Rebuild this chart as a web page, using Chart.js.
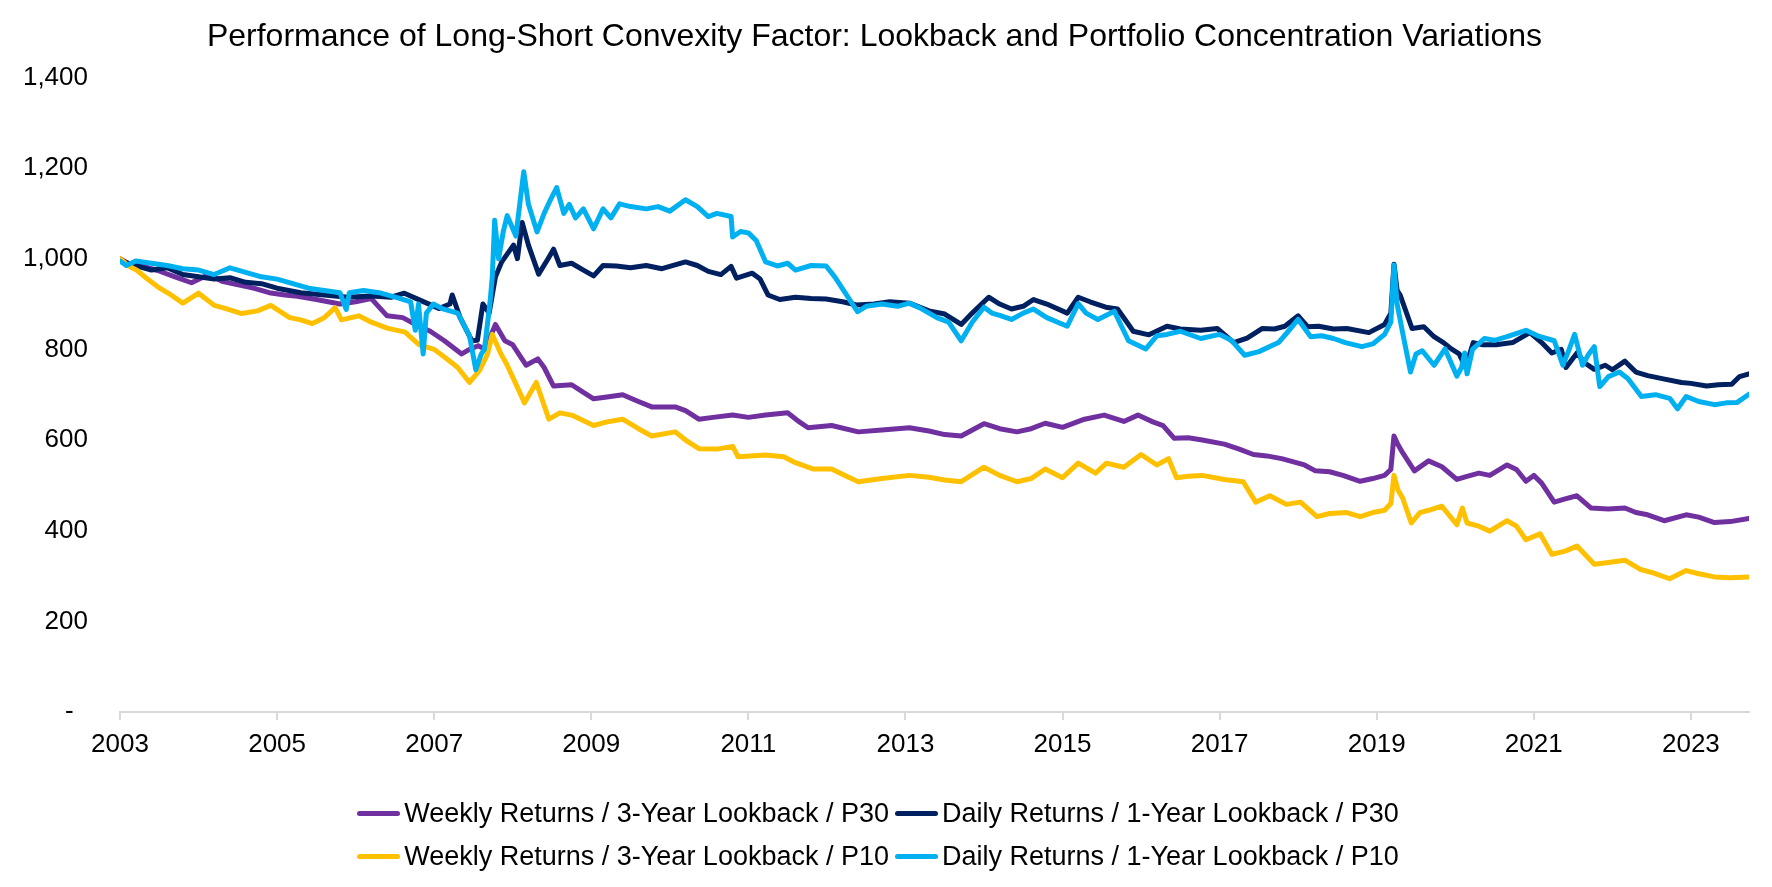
<!DOCTYPE html>
<html>
    <head>
        <meta charset="utf-8">
        <script src="https://cdn.jsdelivr.net/npm/chart.js@4.4.1/dist/chart.umd.min.js"></script>
        <style>
            body { margin: 0; background: #fff; }
            #wrap { position: relative; width: 1772px; height: 887px; }
            #legend {
                position: absolute; left: -11px; top: 792px; width: 100%;
                display: grid; grid-template-columns: auto auto; justify-content: center;
                font-family: "Liberation Sans", Arial, sans-serif; font-size: 27px; color: #000;
            }
            .item { display: flex; align-items: center; height: 43px; white-space: nowrap; }
            .swatch { width: 43px; height: 5px; border-radius: 3px; margin-left: 6px; margin-right: 4px; }
        </style>
    </head>
    <body>
        <div id="wrap">
            <canvas id="myChart"></canvas>
            <div id="legend"></div>
        </div>
    </body>
    <script>
        const titleText = 'Performance of Long-Short Convexity Factor: Lookback and Portfolio Concentration Variations'
        const tickYears = [2003, 2005, 2007, 2009, 2011, 2013, 2015, 2017, 2019, 2021, 2023]
        const yTicks = [0, 200, 400, 600, 800, 1000, 1200, 1400]

        // Weekly Returns / 3-Year Lookback / P30
        const weeklyP30Years = [2003.0, 2003.1, 2003.25, 2003.48, 2003.7, 2003.91, 2004.13, 2004.3, 2004.46, 2004.7, 2004.9, 2005.1, 2005.26, 2005.5, 2005.8, 2006.0, 2006.2, 2006.4, 2006.6, 2006.77, 2006.95, 2007.13, 2007.35, 2007.45, 2007.56, 2007.65, 2007.72, 2007.78, 2007.9, 2008.0, 2008.17, 2008.32, 2008.4, 2008.52, 2008.75, 2008.9, 2009.03, 2009.2, 2009.4, 2009.6, 2009.77, 2010.07, 2010.2, 2010.37, 2010.55, 2010.8, 2011.0, 2011.22, 2011.5, 2011.65, 2011.76, 2012.06, 2012.4, 2012.7, 2013.05, 2013.3, 2013.5, 2013.71, 2014.0, 2014.2, 2014.42, 2014.6, 2014.78, 2015.0, 2015.28, 2015.53, 2015.78, 2015.96, 2016.15, 2016.28, 2016.42, 2016.6, 2016.78, 2017.06, 2017.25, 2017.43, 2017.6, 2017.79, 2018.08, 2018.22, 2018.4, 2018.57, 2018.79, 2018.95, 2019.1, 2019.18, 2019.22, 2019.27, 2019.33, 2019.48, 2019.66, 2019.83, 2020.02, 2020.15, 2020.3, 2020.44, 2020.66, 2020.78, 2020.9, 2021.0, 2021.1, 2021.26, 2021.4, 2021.55, 2021.73, 2021.95, 2022.16, 2022.3, 2022.45, 2022.66, 2022.94, 2023.1, 2023.3, 2023.5, 2023.74]
        const weeklyP30Values = [1000, 990, 985, 974, 960, 947, 965, 950, 944, 935, 925, 920, 917, 910, 900, 905, 912, 874, 870, 854, 840, 819, 790, 800, 808, 800, 830, 855, 819, 810, 765, 779, 760, 719, 722, 705, 691, 695, 700, 685, 673, 673, 665, 646, 650, 655, 650, 655, 660, 640, 627, 632, 618, 622, 627, 620, 612, 609, 636, 625, 618, 625, 637, 628, 646, 655, 641, 655, 640, 632, 604, 605, 600, 591, 580, 568, 565, 559, 545, 532, 530, 522, 509, 515, 522, 535, 609, 590, 572, 532, 554, 541, 513, 520, 527, 522, 545, 535, 509, 522, 505, 463, 470, 477, 450, 448, 450, 440, 435, 422, 435, 430, 418, 420, 427]

        // Daily Returns / 1-Year Lookback / P30
        const dailyP30Years = [2003.0, 2003.2, 2003.4, 2003.6, 2003.8, 2004.0, 2004.2, 2004.4, 2004.6, 2004.8, 2005.0, 2005.3, 2005.6, 2005.9, 2006.2, 2006.45, 2006.62, 2006.84, 2007.06, 2007.2, 2007.23, 2007.33, 2007.48, 2007.55, 2007.62, 2007.7, 2007.78, 2007.86, 2008.01, 2008.06, 2008.12, 2008.2, 2008.33, 2008.45, 2008.52, 2008.6, 2008.75, 2008.9, 2009.03, 2009.15, 2009.32, 2009.5, 2009.7, 2009.9, 2010.2, 2010.35, 2010.49, 2010.65, 2010.78, 2010.85, 2011.05, 2011.15, 2011.25, 2011.4, 2011.6, 2011.8, 2011.99, 2012.2, 2012.38, 2012.6, 2012.8, 2013.05, 2013.3, 2013.5, 2013.71, 2013.85, 2014.06, 2014.2, 2014.35, 2014.5, 2014.63, 2014.8, 2015.06, 2015.2, 2015.35, 2015.55, 2015.7, 2015.82, 2015.9, 2016.1, 2016.33, 2016.5, 2016.76, 2016.97, 2017.18, 2017.35, 2017.54, 2017.7, 2017.83, 2018.0, 2018.12, 2018.26, 2018.45, 2018.62, 2018.9, 2019.1, 2019.18, 2019.22, 2019.26, 2019.3, 2019.45, 2019.6, 2019.73, 2019.85, 2019.95, 2020.05, 2020.13, 2020.23, 2020.35, 2020.52, 2020.73, 2020.95, 2021.1, 2021.23, 2021.35, 2021.41, 2021.55, 2021.65, 2021.77, 2021.91, 2022.0, 2022.16, 2022.3, 2022.45, 2022.65, 2022.88, 2023.0, 2023.2, 2023.35, 2023.52, 2023.62, 2023.74]
        const dailyP30Values = [995, 985, 975, 980, 965, 960, 955, 958, 948, 945, 935, 925, 920, 915, 918, 915, 924, 907, 890, 900, 920, 870, 819, 820, 900, 880, 960, 993, 1030, 1000, 1080, 1030, 966, 1000, 1021, 985, 990, 975, 962, 985, 984, 980, 985, 978, 993, 985, 972, 965, 983, 957, 968, 955, 920, 910, 915, 912, 911, 905, 898, 900, 905, 902, 885, 878, 855, 880, 915, 900, 889, 895, 910, 900, 880, 915, 905, 893, 889, 860, 840, 832, 851, 845, 842, 846, 815, 825, 846, 845, 851, 874, 850, 851, 845, 846, 837, 855, 880, 988, 930, 919, 846, 850, 828, 815, 801, 790, 760, 815, 810, 810, 815, 837, 815, 792, 800, 760, 792, 770, 756, 765, 755, 774, 750, 742, 735, 727, 725, 719, 722, 723, 740, 746]

        // Weekly Returns / 3-Year Lookback / P10
        const weeklyP10Years = [2003.0, 2003.1, 2003.22, 2003.35, 2003.48, 2003.65, 2003.8, 2004.0, 2004.2, 2004.35, 2004.55, 2004.75, 2004.92, 2005.16, 2005.3, 2005.45, 2005.6, 2005.74, 2005.82, 2006.04, 2006.2, 2006.4, 2006.63, 2006.81, 2007.0, 2007.13, 2007.3, 2007.45, 2007.58, 2007.68, 2007.74, 2007.85, 2007.93, 2008.05, 2008.15, 2008.3, 2008.46, 2008.6, 2008.75, 2009.03, 2009.2, 2009.4, 2009.6, 2009.77, 2010.07, 2010.2, 2010.37, 2010.6, 2010.8, 2010.87, 2011.22, 2011.45, 2011.6, 2011.83, 2012.06, 2012.25, 2012.4, 2012.7, 2013.05, 2013.3, 2013.5, 2013.71, 2014.0, 2014.2, 2014.42, 2014.6, 2014.78, 2015.0, 2015.2, 2015.42, 2015.56, 2015.78, 2016.0, 2016.2, 2016.35, 2016.45, 2016.6, 2016.78, 2017.06, 2017.3, 2017.46, 2017.64, 2017.85, 2018.03, 2018.24, 2018.4, 2018.62, 2018.79, 2018.95, 2019.1, 2019.18, 2019.22, 2019.27, 2019.33, 2019.44, 2019.55, 2019.66, 2019.83, 2020.02, 2020.09, 2020.15, 2020.3, 2020.44, 2020.66, 2020.78, 2020.9, 2021.08, 2021.23, 2021.4, 2021.55, 2021.77, 2021.95, 2022.16, 2022.35, 2022.52, 2022.73, 2022.94, 2023.1, 2023.3, 2023.5, 2023.74]
        const weeklyP10Values = [1000, 985, 974, 955, 938, 920, 902, 924, 897, 890, 879, 885, 897, 870, 865, 857, 870, 892, 865, 874, 860, 847, 838, 810, 800, 783, 760, 727, 754, 790, 833, 790, 765, 720, 682, 727, 646, 660, 655, 632, 640, 646, 625, 609, 618, 600, 581, 580, 586, 563, 567, 563, 550, 536, 536, 520, 508, 515, 522, 518, 512, 508, 540, 522, 508, 515, 536, 517, 549, 527, 549, 540, 568, 545, 559, 517, 520, 522, 513, 508, 463, 477, 458, 463, 431, 438, 440, 431, 440, 445, 460, 522, 490, 472, 417, 440, 445, 454, 413, 450, 417, 410, 399, 422, 410, 380, 393, 348, 355, 366, 326, 330, 335, 315, 307, 294, 312, 305, 298, 296, 298]

        // Daily Returns / 1-Year Lookback / P10
        const dailyP10Years = [2003.0, 2003.08, 2003.2, 2003.4, 2003.6, 2003.8, 2004.0, 2004.2, 2004.4, 2004.6, 2004.8, 2005.0, 2005.2, 2005.4, 2005.6, 2005.8, 2005.88, 2005.92, 2006.1, 2006.3, 2006.57, 2006.7, 2006.76, 2006.8, 2006.86, 2006.9, 2006.99, 2007.1, 2007.3, 2007.45, 2007.53, 2007.6, 2007.64, 2007.71, 2007.74, 2007.77, 2007.82, 2007.88, 2007.93, 2008.04, 2008.14, 2008.2, 2008.31, 2008.4, 2008.48, 2008.56, 2008.65, 2008.72, 2008.8, 2008.9, 2009.03, 2009.15, 2009.25, 2009.36, 2009.5, 2009.7, 2009.85, 2010.0, 2010.2, 2010.35, 2010.49, 2010.6, 2010.78, 2010.8, 2010.9, 2011.0, 2011.1, 2011.22, 2011.37, 2011.5, 2011.6, 2011.8, 2011.99, 2012.1, 2012.25, 2012.39, 2012.5, 2012.7, 2012.9, 2013.05, 2013.2, 2013.4, 2013.55, 2013.71, 2013.85, 2014.0, 2014.1, 2014.2, 2014.35, 2014.5, 2014.63, 2014.8, 2015.06, 2015.2, 2015.3, 2015.45, 2015.66, 2015.84, 2016.06, 2016.2, 2016.33, 2016.5, 2016.76, 2017.0, 2017.15, 2017.32, 2017.5, 2017.75, 2017.85, 2018.0, 2018.16, 2018.3, 2018.45, 2018.6, 2018.81, 2018.95, 2019.1, 2019.18, 2019.22, 2019.26, 2019.33, 2019.43, 2019.5, 2019.58, 2019.73, 2019.87, 2020.02, 2020.08, 2020.12, 2020.15, 2020.22, 2020.37, 2020.5, 2020.66, 2020.9, 2021.05, 2021.26, 2021.32, 2021.37, 2021.45, 2021.52, 2021.62, 2021.7, 2021.77, 2021.84, 2021.95, 2022.09, 2022.2, 2022.37, 2022.55, 2022.73, 2022.83, 2022.94, 2023.1, 2023.3, 2023.45, 2023.59, 2023.74]
        const dailyP10Values = [995, 985, 995, 990, 985, 978, 975, 965, 980, 970, 960, 955, 945, 935, 930, 925, 888, 925, 930, 925, 912, 905, 842, 900, 790, 880, 900, 890, 880, 830, 755, 790, 800, 902, 960, 1085, 1000, 1060, 1095, 1050, 1192, 1120, 1059, 1100, 1130, 1157, 1100, 1120, 1090, 1110, 1066, 1110, 1090, 1121, 1115, 1110, 1115, 1105, 1130, 1115, 1093, 1100, 1093, 1048, 1060, 1057, 1040, 993, 984, 990, 975, 985, 984, 960, 920, 883, 895, 900, 895, 902, 890, 870, 860, 819, 860, 893, 880, 875, 866, 880, 889, 870, 851, 901, 880, 866, 884, 819, 801, 830, 833, 840, 824, 833, 820, 787, 795, 815, 835, 866, 828, 830, 824, 815, 806, 812, 833, 860, 986, 900, 837, 750, 790, 797, 765, 801, 741, 760, 792, 746, 800, 824, 820, 828, 842, 830, 819, 790, 765, 800, 833, 765, 790, 806, 718, 740, 750, 735, 696, 700, 692, 669, 696, 685, 678, 682, 683, 701]

        const seriesLabels = ['Weekly Returns / 3-Year Lookback / P30', 'Daily Returns / 1-Year Lookback / P30', 'Weekly Returns / 3-Year Lookback / P10', 'Daily Returns / 1-Year Lookback / P10']
        const seriesColors = ['#7030A0', '#002060', '#FFC000', '#00B0F0']
        const seriesYears = [weeklyP30Years, dailyP30Years, weeklyP10Years, dailyP10Years]
        const seriesValues = [weeklyP30Values, dailyP30Values, weeklyP10Values, dailyP10Values]

        const fontFamily = '"Liberation Sans", Arial, sans-serif'

        const datasets = seriesLabels.map((label, i) => ({
            label: label,
            data: seriesYears[i].map((yr, j) => ({ x: yr, y: seriesValues[i][j] })),
            borderColor: seriesColors[i],
            backgroundColor: seriesColors[i],
            borderWidth: 5,
            borderJoinStyle: 'round',
            borderCapStyle: 'round',
            pointRadius: 0,
            tension: 0,
            order: 4 - i   // excel draws later series on top
        }))

        const config = {
            type: 'line',
            data: { datasets: datasets },
            options: {
                responsive: true,
                maintainAspectRatio: false,
                animation: false,
                layout: { padding: { left: 0, right: 23, top: 0, bottom: 115 } },
                plugins: {
                    legend: { display: false },
                    tooltip: { enabled: false },
                    title: {
                        display: true,
                        text: titleText,
                        color: '#000',
                        font: { family: fontFamily, size: 32, weight: 'normal' },
                        padding: { top: 18, bottom: 21 }
                    }
                },
                scales: {
                    x: {
                        type: 'linear',
                        min: 2003,
                        max: 2023.74,
                        afterBuildTicks: (axis) => { axis.ticks = tickYears.map(v => ({ value: v })) },
                        afterFit: (axis) => { axis.height = 60 },
                        grid: { display: true, drawOnChartArea: false, drawTicks: true, tickLength: 8, color: '#D9D9D9', lineWidth: 2 },
                        border: { display: true, color: '#D9D9D9', width: 2 },
                        ticks: {
                            color: '#000',
                            padding: 9,
                            maxRotation: 0,
                            font: { family: fontFamily, size: 26 },
                            callback: (v) => String(v)
                        }
                    },
                    y: {
                        min: 0,
                        max: 1400,
                        afterBuildTicks: (axis) => { axis.ticks = yTicks.map(v => ({ value: v })) },
                        afterFit: (axis) => { axis.width = 120 },
                        grid: { display: false, drawTicks: false },
                        border: { display: false },
                        ticks: {
                            color: '#000',
                            padding: 32,
                            font: { family: fontFamily, size: 26 },
                            callback: (v) => v === 0 ? '-  ' : v.toLocaleString('en-US')
                        }
                    }
                }
            }
        }

        const myChart = new Chart(document.getElementById('myChart'), config)

        // legend in two columns, like the original
        const legendBox = document.getElementById('legend')
        seriesLabels.forEach((label, i) => {
            const item = document.createElement('div')
            item.className = 'item'
            const sw = document.createElement('span')
            sw.className = 'swatch'
            sw.style.background = seriesColors[i]
            item.appendChild(sw)
            item.appendChild(document.createTextNode(label))
            legendBox.appendChild(item)
        })
    </script>
</html>
